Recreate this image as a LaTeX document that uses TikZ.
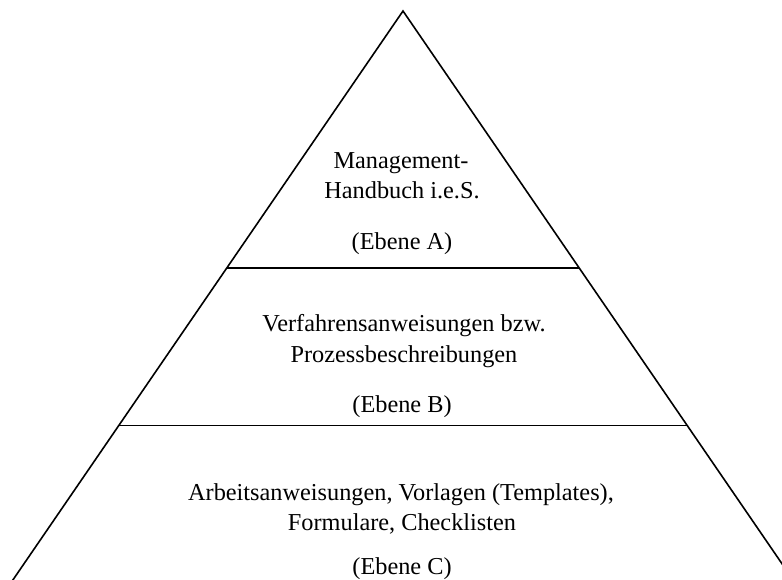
\documentclass[tikz,border=0pt]{standalone}
\usepackage{fontspec}
\setmainfont{Liberation Serif}
\usetikzlibrary{calc}
\begin{document}
\begin{tikzpicture}[x=1pt,y=-1pt,
  edge/.style={line width=1.6pt, line join=miter},
  label/.style={font=\fontsize{24.3}{29}\selectfont, anchor=base, inner sep=0pt}]
\useasboundingbox (0,0) rectangle (782,580);
\clip (0,0) rectangle (782,580);
% outline of the pyramid (base lies below the visible area)
\coordinate (apex) at (403,11);
\coordinate (bl) at (6,590);
\coordinate (br) at (800,590);
\draw[edge] (bl) -- (apex) -- (br);
% level dividers
\coordinate (abL) at ($(apex)!0.4434!(bl)$);
\coordinate (abR) at ($(apex)!0.4434!(br)$);
\coordinate (bcL) at ($(apex)!0.7162!(bl)$);
\coordinate (bcR) at ($(apex)!0.7162!(br)$);
\draw[edge] (abL) -- (abR);
\draw[edge] (bcL) -- (bcR);
% level A
\node[label] (a1) at (401,169) {Management-};
\node[label] (a2) at (402,199) {Handbuch i.e.S.};
\node[label] (a3) at (402,250) {(Ebene A)};
% level B
\node[label] (b1) at (404,331) {Verfahrensanweisungen bzw.};
\node[label] (b2) at (404,362) {Prozessbeschreibungen};
\node[label] (b3) at (402,412) {(Ebene B)};
% level C
\node[label] (c1) at (401,500) {Arbeitsanweisungen, Vorlagen (Templates),};
\node[label] (c2) at (402,530) {Formulare, Checklisten};
\node[label] (c3) at (402,574) {(Ebene C)};
\end{tikzpicture}
\end{document}
